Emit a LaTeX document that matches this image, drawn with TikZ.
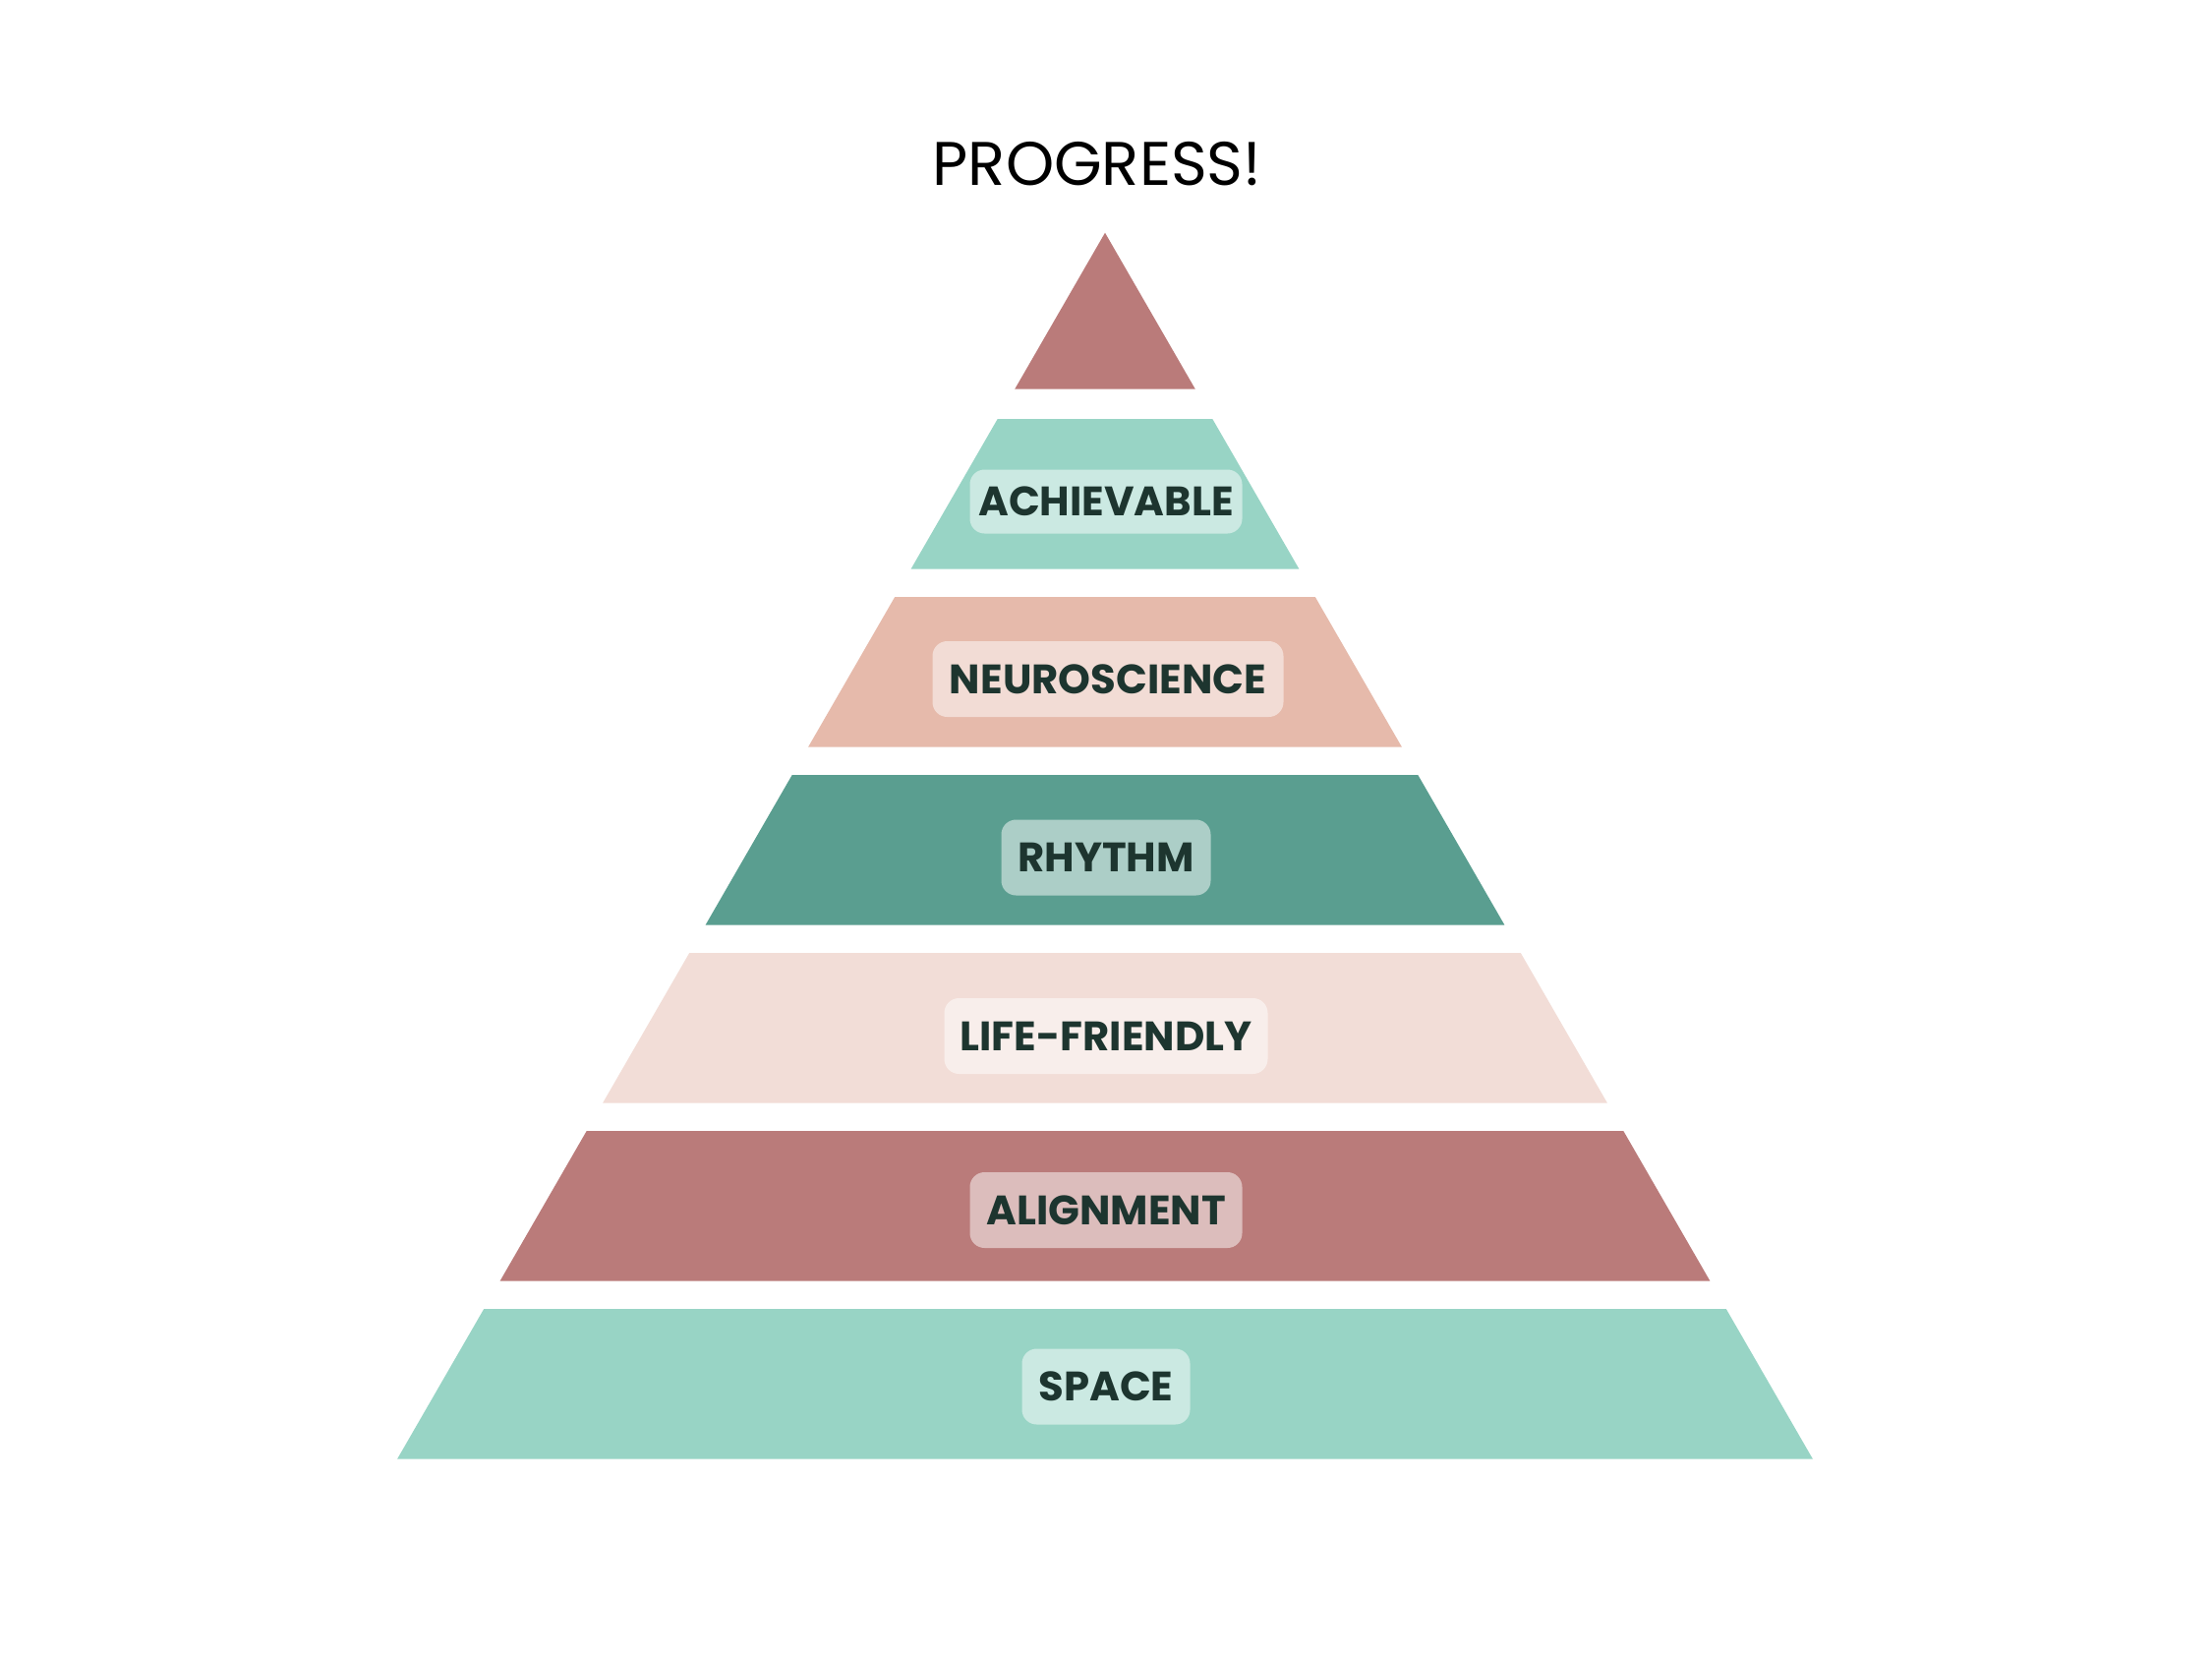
\documentclass[tikz,border=0pt]{standalone}
\usepackage{fontspec}
\setmainfont{Poppins}
\definecolor{rose}{HTML}{BA7B7A}
\definecolor{mint}{HTML}{98D4C5}
\definecolor{peach}{HTML}{E6BAAB}
\definecolor{teal}{HTML}{5A9E90}
\definecolor{blush}{HTML}{F2DDD7}
\definecolor{ink}{HTML}{1D352F}
\tikzset{
  lbl/.style={rounded corners=7.5pt, fill=white, fill opacity=0.5, text opacity=1,
    inner sep=0pt, text height=14.8pt, text depth=0pt, text=ink,
    font=\fontsize{20.9pt}{24pt}\selectfont\bfseries, minimum height=38.5pt},
  ttl/.style={font=\fontsize{31.3pt}{36pt}\selectfont, text=black, inner sep=0pt, anchor=base}
}
\begin{document}
\begin{tikzpicture}[x=0.5pt,y=-0.5pt]
\useasboundingbox[fill=white] (0,0) rectangle (2250,1687);
\node[ttl] (title) at (1116,188.3) {PROGRESS!};
% apex triangle
\fill[rose] (1124,236.7) -- ({1124+91.8},395.7) -- ({1124-91.8},395.7) -- cycle;
\foreach \t/\c in {426/mint,607/peach,788/teal,969/blush,1150/rose,1331/mint} {
  \pgfmathsetmacro\b{\t+152.5}
  \pgfmathsetmacro\wt{(\t-236.7)*0.57735}
  \pgfmathsetmacro\wb{(\b-236.7)*0.57735}
  \fill[\c] ({1124-\wt},\t) -- ({1124+\wt},\t) -- ({1124+\wb},\b) -- ({1124-\wb},\b) -- cycle;
}
\node[lbl, minimum width=138.5pt, minimum height=32.5pt] (achievable) at (1125,510) {ACHIEVABLE};
\node[lbl, minimum width=178.5pt] (neuroscience) at (1127,690.5) {NEUROSCIENCE};
\node[lbl, minimum width=106.5pt] (rhythm) at (1125,872) {RHYTHM};
\node[lbl, minimum width=164.5pt] (lifefriendly) at (1125,1053.5) {LIFE-FRIENDLY};
\node[lbl, minimum width=138.5pt] (alignment) at (1125,1230.5) {ALIGNMENT};
\node[lbl, minimum width=85.5pt] (space) at (1125,1410) {SPACE};
\end{tikzpicture}
\end{document}
